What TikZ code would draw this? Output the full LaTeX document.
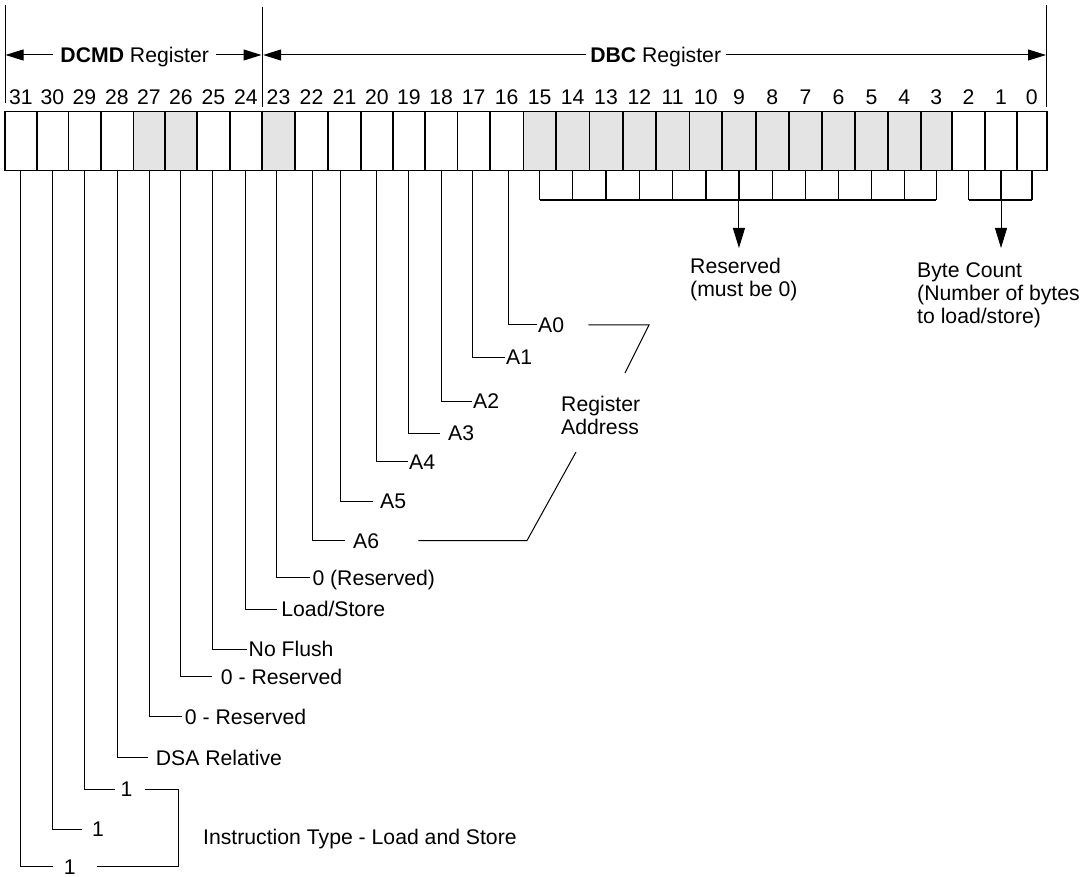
\documentclass[tikz,border=0pt]{standalone}
\usepackage{fontspec}
\setmainfont{Liberation Sans}
\usetikzlibrary{arrows.meta}
\definecolor{shade}{HTML}{E4E4E4}
\tikzset{
  cell/.style={draw, line width=1.6pt, inner sep=0pt, outer sep=0pt, minimum height=59pt},
  bitnum/.style={anchor=base, inner sep=0pt},
  lbl/.style={anchor=west, inner xsep=0pt, inner ysep=0pt, text height=15.2pt, text depth=0pt},
  hdr/.style={inner ysep=0pt, text height=15.2pt, text depth=0pt},
  leader/.style={line width=1pt},
  bracket/.style={line width=1.5pt},
  harrow/.style={line width=1pt, -{Triangle[length=18pt,width=11pt]}},
  darrow/.style={line width=1pt, -{Triangle[length=20pt,width=12pt]}},
  frame/.style={line width=1pt}
}
\begin{document}
\begin{tikzpicture}[x=1pt,y=-1pt, every node/.style={font=\fontsize{21.2pt}{23pt}\selectfont}]
\useasboundingbox[fill=white] (0,0) rectangle (1090,877);
% register cells
\foreach \b/\l/\r/\f in {31/5/36.7/white,30/36.7/68.3/white,29/68.3/100.7/white,28/100.7/133.3/white,
  27/133.3/164.7/shade,26/164.7/197/shade,25/197/229.7/white,24/229.7/262/white,
  23/262/295/shade,22/295/328/white,21/328/361/white,20/361/392.7/white,
  19/392.7/425/white,18/425/457.3/white,17/457.3/490/white,16/490/523.3/white,
  15/523.3/556/shade,14/556/589.3/shade,13/589.3/622.7/shade,12/622.7/656/shade,
  11/656/689.3/shade,10/689.3/722.2/shade,9/722.2/755.7/shade,8/755.7/789/shade,
  7/789/822/shade,6/822/855/shade,5/855/888/shade,4/888/920.7/shade,
  3/920.7/952/shade,2/952/985/white,1/985/1017/white,0/1017/1046.7/white}{
  \pgfmathsetmacro\w{\r-\l}
  \pgfmathsetmacro\c{(\l+\r)/2}
  \node[cell, fill=\f, minimum width=\w pt] (b\b) at (\c,141.2) {};
  \node[bitnum] (n\b) at (\c,105) {\b};
}
% frame lines
\draw[frame] (5,5) -- (5,103);
\draw[frame] (262.3,6.7) -- (262.3,107.3);
\draw[frame] (1046.7,5) -- (1046.7,106.7);
% headers
\coordinate (t1) at (5.5,55);
\coordinate (t2) at (261.5,55);
\coordinate (t3) at (263.2,55);
\coordinate (t4) at (1046,55);
\node[hdr, inner xsep=7pt] (dcmd) at (134.7,55) {\textbf{DCMD} Register};
\node[hdr, inner xsep=4.5pt] (dbc) at (655.7,55) {\textbf{DBC} Register};
\draw[harrow] (dcmd.west) -- (t1);
\draw[harrow] (dcmd.east) -- (t2);
\draw[harrow] (dbc.west) -- (t3);
\draw[harrow] (dbc.east) -- (t4);
% reserved bracket
\foreach \b in {15,14,...,3}{
  \draw[bracket] (b\b.south) -- ([yshift=-29.3pt]b\b.south);
}
\draw[bracket] ([yshift=-29.3pt]b15.south) -- ([yshift=-29.3pt]b3.south);
\draw[darrow] ([yshift=-29.3pt]b9.south) -- ([yshift=-77.3pt]b9.south);
\node[anchor=north west, align=left, inner sep=0pt] (res) at (690,257.5) {Reserved\\(must be 0)};
% byte count bracket
\foreach \b in {2,1,0}{
  \draw[bracket] (b\b.south) -- ([yshift=-29.3pt]b\b.south);
}
\draw[bracket] ([yshift=-29.3pt]b2.south) -- ([yshift=-29.3pt]b0.south);
\draw[darrow] ([yshift=-29.3pt]b1.south) -- ([yshift=-77.3pt]b1.south);
\node[anchor=north west, align=left, inner sep=0pt] (bc) at (917,262.5) {Byte Count\\(Number of bytes\\to load/store)};
% leaders
\node[lbl] (l16) at (538,325) {A0};
\draw[leader] ([xshift=1.6pt]b16.south) |- ([xshift=-1pt]l16.west);
\node[lbl] (l17) at (506,357.3) {A1};
\draw[leader] ([xshift=-1pt]b17.south) |- ([xshift=-1pt]l17.west);
\node[lbl] (l18) at (473,401) {A2};
\draw[leader] (b18.south) |- ([xshift=-1.3pt]l18.west);
\node[lbl] (l19) at (448,433.3) {A3};
\draw[leader] (b19.south) |- ([xshift=-8pt]l19.west);
\node[lbl] (l20) at (409,461.7) {A4};
\draw[leader] (b20.south) |- ([xshift=-1pt]l20.west);
\node[lbl] (l21) at (380,501) {A5};
\draw[leader] ([xshift=-3.8pt]b21.south) |- ([xshift=-7.3pt]l21.west);
\node[lbl] (l22) at (353,540.5) {A6};
\draw[leader] ([xshift=0.8pt]b22.south) |- ([xshift=-8pt]l22.west);
\node[lbl] (l23) at (312.3,577.7) {0 (Reserved)};
\draw[leader] ([xshift=-1.8pt]b23.south) |- ([xshift=-2.3pt]l23.west);
\node[lbl] (l24) at (281.2,609) {Load/Store};
\draw[leader] ([xshift=-0.8pt]b24.south) |- ([xshift=-4.5pt]l24.west);
\node[lbl] (l25) at (248.5,649) {No Flush};
\draw[leader] ([xshift=-1pt]b25.south) |- ([xshift=-1.8pt]l25.west);
\node[lbl] (l26) at (220.7,676.7) {0 - Reserved};
\draw[leader] (b26.south) |- ([xshift=-8.4pt]l26.west);
\node[lbl] (l27) at (184.7,716.7) {0 - Reserved};
\draw[leader] (b27.south) |- ([xshift=-3pt]l27.west);
\node[lbl] (l28) at (155.7,757.7) {DSA Relative};
\draw[leader] (b28.south) |- ([xshift=-7.4pt]l28.west);
\node[lbl] (l29) at (120.4,789) {1};
\draw[leader] (b29.south) |- ([xshift=-5.4pt]l29.west);
\node[lbl] (l30) at (92,829) {1};
\draw[leader] (b30.south) |- ([xshift=-10.3pt]l30.west);
\node[lbl] (l31) at (63.7,866.5) {1};
\draw[leader] (b31.south) |- ([xshift=-10.4pt]l31.west);
% instruction type bracket
\coordinate (ib) at (178.3,830);
\draw[leader] ([xshift=12.5pt]l29.east) -| (ib) |- ([xshift=21pt]l31.east);
\node[anchor=base west, inner sep=0pt] (instr) at (203,844) {Instruction Type - Load and Store};
% register address
\coordinate (ra1) at (649,325);
\coordinate (ra2) at (625,373);
\coordinate (ra3) at (527,540.5);
\coordinate (ra4) at (576,452);
\node[anchor=north west, align=left, inner sep=0pt] (ra) at (561,396) {Register\\Address};
\draw[leader] ([xshift=24pt]l16.east) -- (ra1) -- (ra2);
\draw[leader] ([xshift=39pt]l22.east) -- (ra3) -- (ra4);
\end{tikzpicture}
\end{document}
